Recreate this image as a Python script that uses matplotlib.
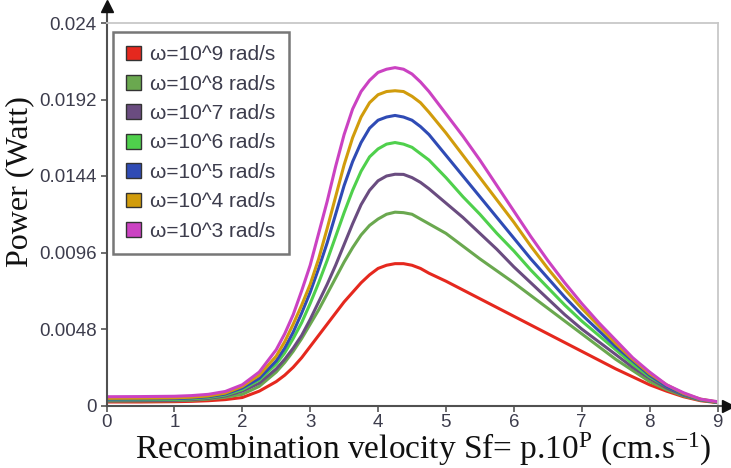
import matplotlib
matplotlib.use("Agg")
import matplotlib.pyplot as plt
from matplotlib.patches import Patch

# recombination velocity exponent p
x = [0, 0.5, 1, 1.25, 1.5, 1.75, 2, 2.25,
     2.5, 2.625, 2.75, 2.875, 3, 3.125, 3.25, 3.375, 3.5, 3.625, 3.75, 3.875,
     4, 4.125, 4.25, 4.375, 4.5, 4.625, 4.75,
     5, 5.25, 5.5, 5.75, 6, 6.25, 6.5, 6.75, 7, 7.25, 7.5, 7.75, 8, 8.25,
     8.5, 8.75, 9]

# power (W) for each angular frequency
p_w9 = [0.00022, 0.00022, 0.00024, 0.00026, 0.0003, 0.00037, 0.0005, 0.0009,
        0.0015, 0.0019, 0.0024, 0.0030, 0.0037, 0.0044, 0.0051, 0.0058, 0.0065,
        0.0071, 0.0077, 0.0082,
        0.0086, 0.0088, 0.0089, 0.0089, 0.0088, 0.0086, 0.0083,
        0.0078, 0.00725, 0.0067, 0.00615, 0.0056, 0.00505, 0.0045, 0.00395,
        0.0034, 0.00285, 0.0023, 0.0018, 0.0013, 0.0009, 0.00055, 0.0003,
        0.00018]
p_w8 = [0.00028, 0.00029, 0.0003, 0.00033, 0.0004, 0.00052, 0.0007, 0.0012,
        0.0021, 0.0027, 0.0034, 0.0042, 0.0051, 0.0060, 0.0070, 0.0080, 0.0090,
        0.0099, 0.0107, 0.0113,
        0.0117, 0.0120, 0.01213, 0.0121, 0.0120, 0.0117, 0.0114,
        0.0108, 0.0100, 0.0092, 0.00845, 0.0077, 0.0069, 0.0061, 0.0053, 0.0045,
        0.0037, 0.0029, 0.0022, 0.0015, 0.0010, 0.0006, 0.00033, 0.0002]
p_w7 = [0.0003, 0.00031, 0.00033, 0.00037, 0.00045, 0.0006, 0.0009, 0.0014,
        0.0023, 0.0029, 0.0036, 0.0044, 0.0054, 0.0065, 0.0076, 0.0088, 0.0101,
        0.0114, 0.0126, 0.0135,
        0.0141, 0.0144, 0.01451, 0.0145, 0.0143, 0.0140, 0.0136,
        0.0127, 0.0118, 0.0108, 0.0098, 0.0087, 0.0077, 0.0067, 0.0057, 0.0048,
        0.0040, 0.0032, 0.0024, 0.0017, 0.0011, 0.00065, 0.00035, 0.0002]
p_w6 = [0.00035, 0.00036, 0.00038, 0.00042, 0.0005, 0.00066, 0.001, 0.0016,
        0.0026, 0.0033, 0.0042, 0.0052, 0.0064, 0.0077, 0.0091, 0.0106, 0.0121,
        0.0135, 0.0147, 0.0156,
        0.0161, 0.0164, 0.0165, 0.0164, 0.0162, 0.0158, 0.0154,
        0.0143, 0.0131, 0.0120, 0.0108, 0.0097, 0.0085, 0.0074, 0.0063, 0.0053,
        0.0044, 0.0035, 0.0026, 0.0018, 0.0012, 0.0007, 0.00037, 0.0002]
p_w5 = [0.0004, 0.00041, 0.00043, 0.00047, 0.00055, 0.00072, 0.0011, 0.0017,
        0.0028, 0.0036, 0.0046, 0.0058, 0.0071, 0.0086, 0.0102, 0.0120, 0.0138,
        0.0153, 0.0165, 0.0174,
        0.0179, 0.0181, 0.0182, 0.0181, 0.0179, 0.0175, 0.0170,
        0.0157, 0.0144, 0.0131, 0.0118, 0.0105, 0.0092, 0.0080, 0.0068, 0.0057,
        0.0047, 0.0037, 0.0028, 0.0019, 0.0012, 0.0007, 0.00038, 0.0002]
p_w4 = [0.00045, 0.00046, 0.00048, 0.00052, 0.0006, 0.00078, 0.0012, 0.0019,
        0.0031, 0.0040, 0.0051, 0.0063, 0.0076, 0.0092, 0.0111, 0.0131, 0.0151,
        0.0168, 0.0181, 0.0190,
        0.0195, 0.0197, 0.01975, 0.0197, 0.0194, 0.0190, 0.0184,
        0.0171, 0.0157, 0.0143, 0.0129, 0.0115, 0.0100, 0.0086, 0.0073, 0.0061,
        0.0050, 0.0039, 0.0029, 0.0020, 0.0013, 0.00075, 0.0004, 0.00022]
p_w3 = [0.00055, 0.00056, 0.00058, 0.00062, 0.0007, 0.00088, 0.0013, 0.0021,
        0.0035, 0.0045, 0.0057, 0.0072, 0.0088, 0.0108, 0.0128, 0.0150, 0.0170,
        0.0186, 0.0197, 0.0204,
        0.0209, 0.0211, 0.0212, 0.0211, 0.0208, 0.0203, 0.0197,
        0.0183, 0.0169, 0.0154, 0.0138, 0.0122, 0.0106, 0.0091, 0.0077, 0.0064,
        0.0052, 0.0041, 0.0030, 0.0021, 0.0013, 0.0008, 0.0004, 0.00024]

series = [p_w9, p_w8, p_w7, p_w6, p_w5, p_w4, p_w3]
labels = ["ω=10^9 rad/s", "ω=10^8 rad/s", "ω=10^7 rad/s", "ω=10^6 rad/s",
          "ω=10^5 rad/s", "ω=10^4 rad/s", "ω=10^3 rad/s"]
colors = ["#e5281e", "#6aa84f", "#6a4c80", "#4fd04c", "#2f4bb5",
          "#d19c0c", "#cb42c2"]

y_ticks = [0, 0.0048, 0.0096, 0.0144, 0.0192, 0.024]
y_tick_labels = ["0", "0.0048", "0.0096", "0.0144", "0.0192", "0.024"]
x_ticks = [0, 1, 2, 3, 4, 5, 6, 7, 8, 9]

plt.rcParams['mathtext.fontset'] = 'custom'
plt.rcParams['mathtext.rm'] = 'Liberation Serif'
plt.rcParams['mathtext.it'] = 'Liberation Serif:italic'

fig = plt.figure(figsize=(7.31, 4.68), dpi=100)
ax = fig.add_axes([106.5 / 731, 62.5 / 468, 611 / 731, 382.5 / 468])

for vals, c in zip(series, colors):
    ax.plot(x, vals, color=c, lw=2.2, solid_joinstyle='round')

ax.set_xlim(0, 9)
ax.set_ylim(0, 0.024)
ax.set_xticks(x_ticks)
ax.set_yticks(y_ticks)
ax.set_yticklabels(y_tick_labels)
tick_col = "#3c3c4c"
ax.tick_params(axis='both', direction='out', length=4, width=1.2,
               color="#555555", labelcolor=tick_col, labelsize=13.5,
               labelfontfamily='Liberation Sans')
ax.tick_params(axis='x', pad=2)
ax.tick_params(axis='y', pad=3)

for s in ['left', 'bottom']:
    ax.spines[s].set_color("#505050")
    ax.spines[s].set_linewidth(1.5)
for s in ['top', 'right']:
    ax.spines[s].set_color("#c8c8c8")
    ax.spines[s].set_linewidth(1.3)

# axis arrows
ax.plot([0, 0], [1, 1.045], color="#505050", lw=1.5, transform=ax.transAxes,
        clip_on=False)
ax.plot([0], [1.045], marker='^', ms=8, color="#111111", transform=ax.transAxes,
        clip_on=False)
ax.plot([1, 1.017], [0, 0], color="#505050", lw=1.5, transform=ax.transAxes,
        clip_on=False)
ax.plot([1.017], [0], marker='>', ms=8, color="#111111", transform=ax.transAxes,
        clip_on=False)

ax.set_xlabel(r"Recombination velocity Sf= p.10$^{\mathrm{P}}$ (cm.s$^{\mathrm{-1}}$)",
              family='Liberation Serif', fontsize=24, color="#111111", labelpad=0)
ax.xaxis.label.set_x(0.518)
ax.set_ylabel("Power (Watt)", family='Liberation Serif', fontsize=23,
              color="#111111")
ax.yaxis.set_label_coords(-0.118, 0.585)

handles = [Patch(facecolor=c, edgecolor="#333333", lw=1.0) for c in colors]
leg = ax.legend(handles, labels, loc='upper left',
                bbox_to_anchor=(112.7 / 731, 1 - 31.7 / 468),
                bbox_transform=fig.transFigure, borderaxespad=0,
                prop={'family': 'Liberation Sans', 'size': 15},
                frameon=True, fancybox=False, handlelength=0.72,
                handleheight=0.72, handletextpad=0.43, labelspacing=0.5,
                borderpad=0.65)
leg.get_frame().set_edgecolor("#555555")
leg.get_frame().set_linewidth(1.8)
for t in leg.get_texts():
    t.set_color(tick_col)

fig.savefig("out.png", dpi=100)
